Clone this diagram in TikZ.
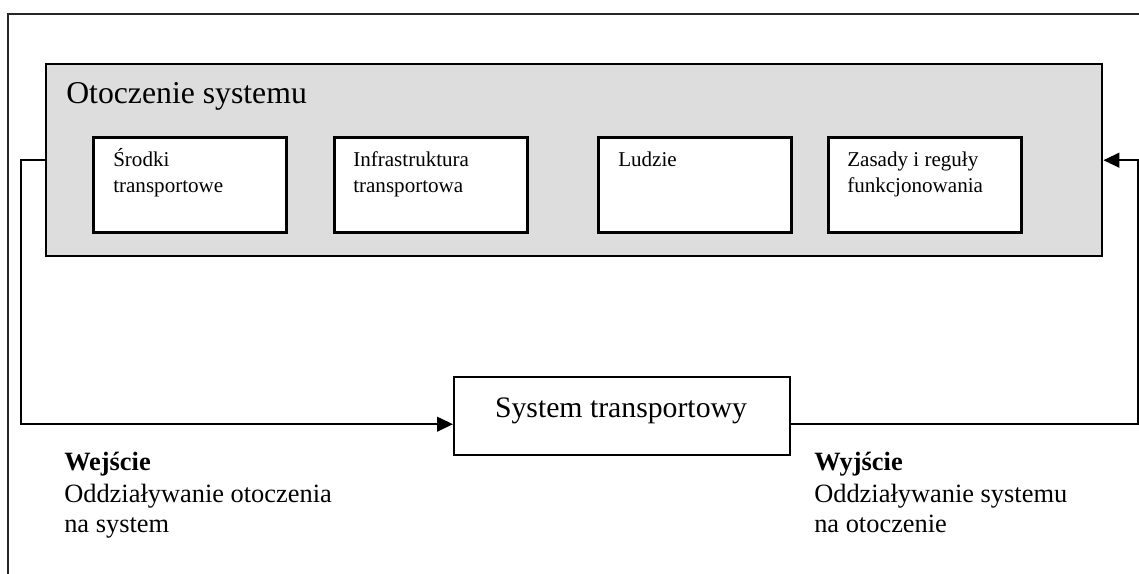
\documentclass[tikz,border=0pt]{standalone}
\usepackage{fontspec}
\setmainfont{Liberation Serif}
\usetikzlibrary{arrows.meta}
\definecolor{envgray}{RGB}{221,221,221}
\begin{document}
\begin{tikzpicture}[x=0.75pt,y=-0.75pt,
  frame/.style={draw=black!85, line width=1.2pt},
  envbox/.style={draw=black, line width=1.8pt, fill=envgray, anchor=north west, inner sep=0pt,
    minimum width=792pt, minimum height=144pt},
  smallbox/.style={draw=black, line width=2pt, fill=white, anchor=north west, inner sep=0pt,
    minimum width=144.75pt, minimum height=71.25pt},
  sysbox/.style={draw=black, line width=1.8pt, fill=white, anchor=north west, inner sep=0pt,
    minimum width=252pt, minimum height=58.5pt},
  smalltxt/.style={anchor=base west, inner sep=0pt, font=\fontsize{15.8pt}{19pt}\selectfont},
  bigtxt/.style={anchor=base west, inner sep=0pt, font=\fontsize{23.8pt}{28pt}\selectfont},
  systxt/.style={inner sep=0pt, font=\fontsize{22.3pt}{26pt}\selectfont},
  lowtxt/.style={anchor=base west, inner sep=0pt, font=\fontsize{19.8pt}{23pt}\selectfont},
  conn/.style={draw=black, line width=1.7pt},
  arr/.style={conn, -{Triangle[length=12pt,width=11pt]}}
]
\useasboundingbox (0,0) rectangle (1139,574);
\fill[white] (0,0) rectangle (1139,574);
% outer frame (left and top)
\draw[frame] (8,574) -- (8,14) -- (1139,14);

% environment box
\node[envbox] (env) at (45,63) {};
\node[bigtxt] (envt) at (66,104) {Otoczenie systemu};

% inner boxes
\node[smallbox] (b1) at (92,136) {};
\node[smallbox] (b2) at (333,136) {};
\node[smallbox] (b3) at (597,136) {};
\node[smallbox] (b4) at (827,136) {};

\node[smalltxt] (b1a) at ([xshift=15.75pt,yshift=-23pt]b1.north west) {Środki};
\node[smalltxt] (b1b) at ([yshift=-19.5pt]b1a.base west) {transportowe};
\node[smalltxt] (b2a) at ([xshift=15pt,yshift=-23pt]b2.north west) {Infrastruktura};
\node[smalltxt] (b2b) at ([yshift=-19.5pt]b2a.base west) {transportowa};
\node[smalltxt] (b3a) at ([xshift=15.75pt,yshift=-23pt]b3.north west) {Ludzie};
\node[smalltxt] (b4a) at ([xshift=15pt,yshift=-23pt]b4.north west) {Zasady i reguły};
\node[smalltxt] (b4b) at ([yshift=-19.5pt]b4a.base west) {funkcjonowania};

% system box
\node[sysbox] (sys) at (453,376) {};
\node[systxt, anchor=base] (syst) at (621,417) {System transportowy};

% connectors
\coordinate (lc) at (21,0);
\coordinate (rc) at (1138,0);
\draw[arr] (env.west) -- (env.west -| lc) |- ([yshift=-6pt]sys.west);
\draw[arr] ([yshift=-6pt]sys.east) -| (rc |- env.east) -- (env.east);

% labels
\node[lowtxt] (inA) at (64,470) {\textbf{Wejście}};
\node[lowtxt] (inB) at (64,502) {Oddziaływanie otoczenia};
\node[lowtxt] (inC) at (64,532) {na system};
\node[lowtxt] (outA) at (814,470) {\textbf{Wyjście}};
\node[lowtxt] (outB) at (814,502) {Oddziaływanie systemu};
\node[lowtxt] (outC) at (814,532) {na otoczenie};
\end{tikzpicture}
\end{document}
